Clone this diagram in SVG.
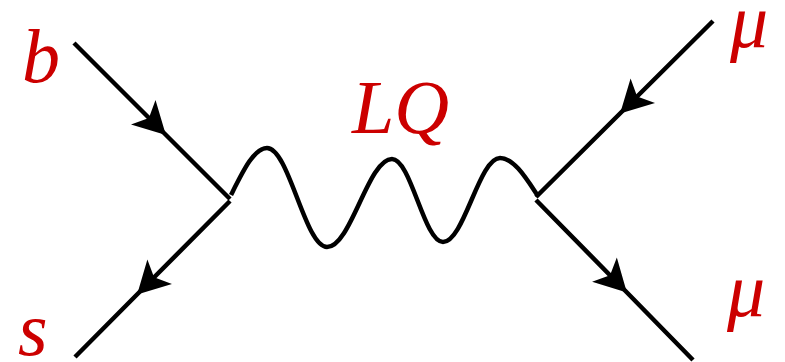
<svg xmlns="http://www.w3.org/2000/svg" width="785" height="362" viewBox="0 0 785 362">
<defs>
<marker id="arr" markerUnits="userSpaceOnUse" markerWidth="40" markerHeight="40" viewBox="-25 -15 30 30" refX="0" refY="0" orient="auto">
<path d="M2,0 L-22,-13 L-16,0 L-22,13 Z" fill="#000"/>
</marker>
</defs>
<rect width="785" height="362" fill="#fff"/>
<g id="connectors" fill="none" stroke="#000" stroke-width="4.5">
<path id="b-line" d="M74,43 L164,133 L230,199" marker-mid="url(#arr)"/>
<path id="s-line" d="M230,201 L139,292.5 L75,357" marker-mid="url(#arr)"/>
<path id="mu-in" d="M713,21 L622,111.5 L536,197" marker-mid="url(#arr)"/>
<path id="mu-out" d="M536,200 L625,290.5 L693,360" marker-mid="url(#arr)"/>
<path id="lq-wave" d="M231,195 C243,171 254,148 267,148 C289,148 305,247 327,247 C351,247 368,159 392,159 C411,159 424,242 443,242 C464,242 479,158 500,158 C514,158 526,178 538,196"/>
</g>
<g id="label-b"><text x="22" y="82" font-family="Times New Roman, Liberation Serif, serif" font-style="italic" font-size="76" fill="#cc0000">b</text></g>
<g id="label-s"><text x="18" y="355" font-family="Times New Roman, Liberation Serif, serif" font-style="italic" font-size="76" fill="#cc0000">s</text></g>
<g id="label-LQ"><text x="352" y="133" font-family="Times New Roman, Liberation Serif, serif" font-style="italic" font-size="76" fill="#cc0000">LQ</text></g>
<g id="label-mu-top"><text x="730" y="47" font-family="Times New Roman, Liberation Serif, serif" font-style="italic" font-size="76" fill="#cc0000">μ</text></g>
<g id="label-mu-bottom"><text x="727" y="316" font-family="Times New Roman, Liberation Serif, serif" font-style="italic" font-size="76" fill="#cc0000">μ</text></g>
</svg>
